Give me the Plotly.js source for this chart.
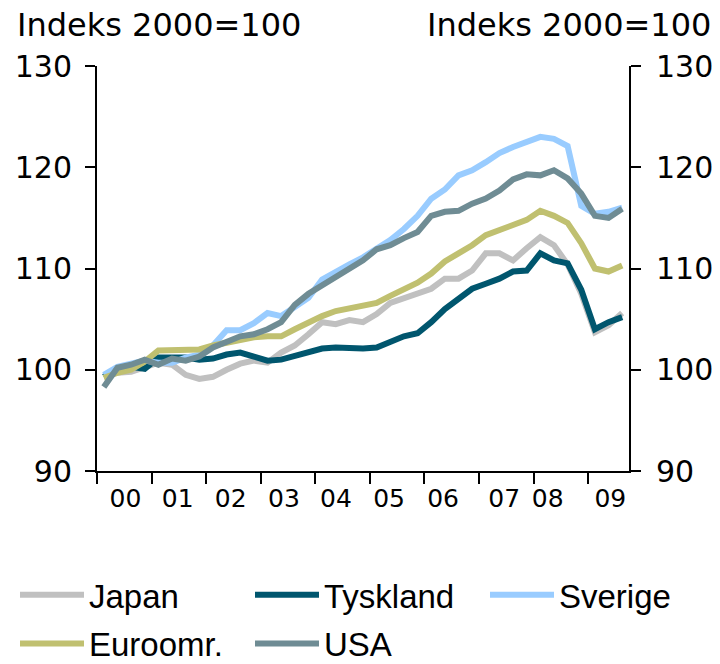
<!DOCTYPE html>
<html>
<head>
<meta charset="utf-8">
<script src="https://cdn.plot.ly/plotly-3.0.1.min.js"></script>
<style>
  html, body { margin: 0; padding: 0; background: #fff; }
  #chart { width: 720px; height: 664px; }
</style>
</head>
<body>
<div id="chart"></div>
<script>
// Quarters 2000K1 .. 2009K3
const quarters = [
  '2000K1','2000K2','2000K3','2000K4',
  '2001K1','2001K2','2001K3','2001K4',
  '2002K1','2002K2','2002K3','2002K4',
  '2003K1','2003K2','2003K3','2003K4',
  '2004K1','2004K2','2004K3','2004K4',
  '2005K1','2005K2','2005K3','2005K4',
  '2006K1','2006K2','2006K3','2006K4',
  '2007K1','2007K2','2007K3','2007K4',
  '2008K1','2008K2','2008K3','2008K4',
  '2009K1','2009K2','2009K3'
];
const yearLabels = ['00','01','02','03','04','05','06','07','08','09'];

const japan = [99.4, 99.7, 99.8, 100.3, 100.7, 100.5, 99.5, 99.1, 99.3, 100.0, 100.6, 100.9, 100.7,
  101.7, 102.4, 103.5, 104.7, 104.5, 104.9, 104.7, 105.5, 106.6, 107.1, 107.5, 108.0,
  109.0, 109.0, 109.8, 111.5, 111.5, 110.8, 112.0, 113.1, 112.3, 110.4, 107.5, 103.7, 104.4, 105.6];
const tyskland = [99.3, 100.2, 100.3, 100.1, 101.2, 101.2, 101.2, 101.0, 101.1, 101.5, 101.7, 101.3, 100.9,
  101.0, 101.4, 101.8, 102.1, 102.2, 102.1, 102.1, 102.2, 102.7, 103.3, 103.6, 104.7,
  106.0, 107.0, 108.0, 108.5, 109.0, 109.7, 109.8, 111.5, 110.8, 110.5, 107.9, 104.0, 104.7, 105.2];
const sverige = [99.5, 100.3, 100.6, 100.9, 100.7, 100.7, 101.2, 101.5, 102.4, 103.9, 103.9, 104.6, 105.6,
  105.3, 106.2, 107.1, 108.9, 109.7, 110.4, 111.1, 111.9, 112.8, 113.9, 115.2, 116.9,
  117.8, 119.2, 119.7, 120.5, 121.4, 122.0, 122.5, 123.0, 122.8, 122.1, 116.2, 115.4, 115.6, 116.0];
const euroomr = [99.2, 99.7, 100.0, 100.8, 101.9, 101.9, 101.9, 102.0, 102.4, 102.7, 102.9, 103.2, 103.3,
  103.3, 104.0, 104.7, 105.3, 105.8, 106.1, 106.4, 106.6, 107.3, 108.0, 108.6, 109.5,
  110.7, 111.5, 112.3, 113.3, 113.8, 114.3, 114.8, 115.7, 115.2, 114.5, 112.5, 110.0, 109.7, 110.3];
const usa = [98.3, 100.2, 100.5, 101.0, 100.5, 101.1, 100.9, 101.3, 102.2, 102.8, 103.3, 103.5, 104.0,
  104.7, 106.4, 107.5, 108.3, 109.1, 110.0, 110.8, 111.9, 112.3, 113.0, 113.6, 115.2,
  115.6, 115.7, 116.4, 116.9, 117.7, 118.8, 119.3, 119.2, 119.7, 118.9, 117.4, 115.2, 115.0, 115.9];

const seriesNames = ['Japan', 'Tyskland', 'Sverige', 'Euroomr.', 'USA'];
const seriesValues = [japan, tyskland, sverige, euroomr, usa];
const seriesColors = ['#c0c0c0', '#00566e', '#99ccff', '#c0c070', '#6f8c94'];
// legend column for each series (reference shows a 3-column grid)
const seriesLegend = ['legend', 'legend2', 'legend3', 'legend', 'legend2'];
// last series is drawn on the overlay axes (x2/y2) that carry the year labels and right-hand scale
const seriesAxes = [['x', 'y'], ['x', 'y'], ['x', 'y'], ['x', 'y'], ['x2', 'y2']];

// layout helpers (positions in quarter-index units)
const xIdx = quarters.map((q, i) => i);
const yearBounds = yearLabels.map((y, k) => 4 * k - 0.5);
const yearLabelPos = [1.59, 5.42, 9.30, 13.20, 17.02, 20.91, 24.87, 29.35, 32.54, 37.13];
const xRange = [-0.5, quarters.length - 0.5];

const traces = seriesNames.map((name, k) => ({
  type: 'scatter', mode: 'lines', name: name,
  x: xIdx, y: seriesValues[k],
  xaxis: seriesAxes[k][0], yaxis: seriesAxes[k][1],
  legend: seriesLegend[k], legendgroup: 'g' + k,
  text: quarters, hovertemplate: '%{text}: %{y}<extra>' + name + '</extra>',
  line: { color: seriesColors[k], width: 6 }
}));

const tickFont = { family: 'DejaVu Sans, Verdana, sans-serif', size: 30, color: '#000' };
const legFont = { family: 'Liberation Sans, Arial, sans-serif', size: 33, color: '#000' };
function legendAt(px) {
  return {
    orientation: 'v', xref: 'container', yref: 'container',
    x: px / 720, y: 0.1465, xanchor: 'left', yanchor: 'top',
    itemwidth: 64, tracegroupgap: 3, font: legFont,
    bgcolor: 'rgba(0,0,0,0)', borderwidth: 0
  };
}

const layout = {
  width: 720, height: 664,
  margin: { l: 97, r: 91, t: 66, b: 193, pad: 0, autoexpand: false },
  paper_bgcolor: '#fff', plot_bgcolor: '#fff',
  showlegend: true,
  xaxis: {
    range: xRange, showgrid: false, zeroline: false,
    showline: true, linecolor: '#000', linewidth: 2,
    tickmode: 'array', tickvals: yearBounds, ticks: 'outside',
    ticklen: 11, tickwidth: 2, tickcolor: '#000',
    showticklabels: false, fixedrange: true, automargin: false
  },
  xaxis2: {
    overlaying: 'x', anchor: 'y', side: 'bottom',
    range: xRange, showgrid: false, zeroline: false, showline: false,
    tickmode: 'array', tickvals: yearLabelPos, ticktext: yearLabels,
    ticks: '', ticklabelstandoff: 10, automargin: false,
    tickfont: { family: 'DejaVu Sans, Verdana, sans-serif', size: 25, color: '#000' }
  },
  yaxis: {
    range: [90, 130], showgrid: false, zeroline: false,
    showline: true, linecolor: '#000', linewidth: 2,
    tickmode: 'array', tickvals: [90, 100, 110, 120, 130],
    ticks: 'outside', ticklen: 10, tickwidth: 2, tickcolor: '#000',
    tickfont: tickFont, ticklabelstandoff: 7, automargin: false
  },
  yaxis2: {
    overlaying: 'y', anchor: 'x', side: 'right',
    range: [90, 130], showgrid: false, zeroline: false,
    showline: true, linecolor: '#000', linewidth: 2,
    tickmode: 'array', tickvals: [90, 100, 110, 120, 130],
    ticks: 'outside', ticklen: 10, tickwidth: 2, tickcolor: '#000',
    tickfont: tickFont, ticklabelstandoff: 9, automargin: false
  },
  legend: legendAt(15),
  legend2: legendAt(250),
  legend3: legendAt(485),
  annotations: [
    { text: 'Indeks 2000=100', xref: 'paper', yref: 'paper',
      x: -0.155, y: 1.0, xanchor: 'left', yanchor: 'bottom', yshift: 20, showarrow: false,
      font: { family: 'DejaVu Sans, Verdana, sans-serif', size: 32, color: '#000' } },
    { text: 'Indeks 2000=100', xref: 'paper', yref: 'paper',
      x: 1.158, y: 1.0, xanchor: 'right', yanchor: 'bottom', yshift: 20, showarrow: false,
      font: { family: 'DejaVu Sans, Verdana, sans-serif', size: 32, color: '#000' } }
  ]
};

Plotly.newPlot('chart', traces, layout, { staticPlot: true, displayModeBar: false });
</script>
</body>
</html>
